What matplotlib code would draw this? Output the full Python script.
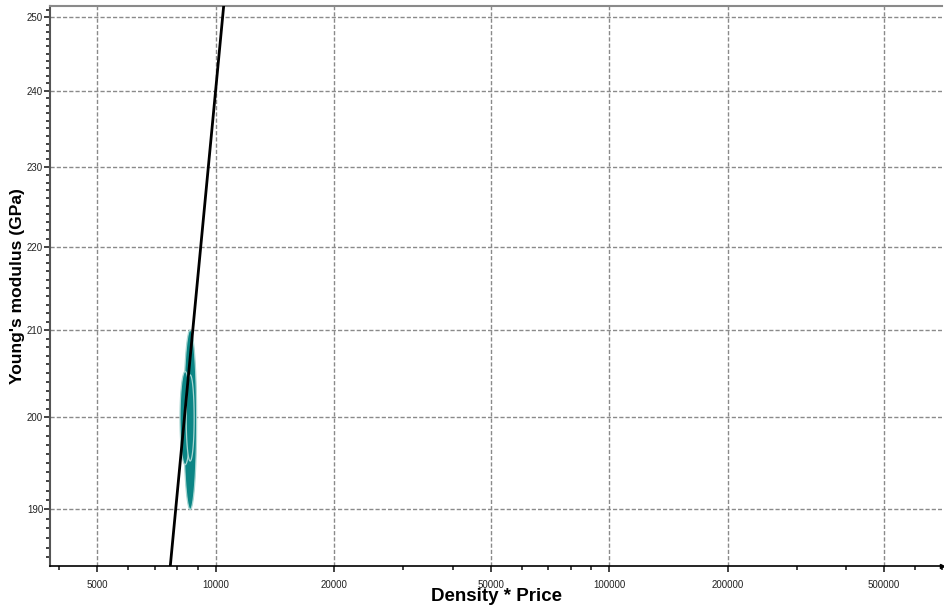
import matplotlib
matplotlib.use("Agg")
import matplotlib.pyplot as plt
import numpy as np
from matplotlib.ticker import FixedLocator, NullFormatter, FixedFormatter

plt.rcParams["font.family"] = ["Liberation Sans", "DejaVu Sans"]

# --- data ----------------------------------------------------------------- #
x_major = [5000, 10000, 20000, 50000, 100000, 200000, 500000]
y_major = [190, 200, 210, 220, 230, 240, 250]

# material bubbles: ranges of density*price and modulus
bub_x_lo = [8300, 8120, 8420]
bub_x_hi = [8950, 8620, 8820]
bub_y_lo = [190.0, 194.8, 195.2]
bub_y_hi = [210.0, 205.2, 204.8]

# guideline E / (rho*p) = const, through (10000, 240)
guide_x = [3000, 800000]
guide_slope = 0.024

xlim = (3795, 702000)
ylim = (184.1, 251.6)

fig = plt.figure(figsize=(9.44, 6.05), dpi=100)
ax = fig.add_axes([0.053, 0.0645, 0.945, 0.9255])
ax.set_xscale("log")
ax.set_yscale("log")
ax.set_xlim(*xlim)
ax.set_ylim(*ylim)

# bubbles drawn as ellipses in log space
t = np.linspace(0, 2 * np.pi, 200)
for xl, xh, yl, yh in zip(bub_x_lo, bub_x_hi, bub_y_lo, bub_y_hi):
    cx, rx = (np.log10(xl) + np.log10(xh)) / 2, (np.log10(xh) - np.log10(xl)) / 2
    cy, ry = (np.log10(yl) + np.log10(yh)) / 2, (np.log10(yh) - np.log10(yl)) / 2
    ex = 10 ** (cx + rx * np.cos(t))
    ey = 10 ** (cy + ry * np.sin(t))
    ax.fill(ex, ey, facecolor="#0b8585", edgecolor="#a8d6d2", lw=0.9, zorder=3)

gx = np.array(guide_x, dtype=float)
ax.plot(gx, guide_slope * gx, color="black", lw=2.0, zorder=4)

# ticks
ax.xaxis.set_major_locator(FixedLocator(x_major))
ax.xaxis.set_major_formatter(FixedFormatter([str(v) for v in x_major]))
x_minor = [m * 10 ** e for e in range(3, 6) for m in range(2, 10)]
ax.xaxis.set_minor_locator(FixedLocator(x_minor))
ax.xaxis.set_minor_formatter(NullFormatter())
ax.yaxis.set_major_locator(FixedLocator(y_major))
ax.yaxis.set_major_formatter(FixedFormatter([str(v) for v in y_major]))
ax.yaxis.set_minor_locator(FixedLocator(np.arange(180, 256, 1)))
ax.yaxis.set_minor_formatter(NullFormatter())

ax.tick_params(axis="both", which="major", labelsize=7, length=4, width=1.2,
               color="#222222", labelcolor="#222222", direction="out")
ax.tick_params(axis="both", which="minor", length=3, width=1.2, color="#222222",
               direction="out")
ax.tick_params(axis="x", pad=6)
ax.tick_params(axis="y", pad=1)

ax.grid(True, which="major", color="#8a8a8a", ls=(0, (3, 1.5)), lw=1.0)
ax.set_axisbelow(True)

ax.spines["right"].set_visible(False)
ax.spines["top"].set_color("#8a8a8a")
ax.spines["top"].set_linewidth(1.5)
ax.spines["left"].set_color("#555555")
ax.spines["left"].set_linewidth(1.5)
ax.spines["bottom"].set_color("black")
ax.spines["bottom"].set_linewidth(1.2)
ax.plot([1.0], [0.0], marker=">", ms=3, color="black", transform=ax.transAxes,
        clip_on=False)

ax.set_xlabel("Density * Price", fontsize=13.5, fontweight="bold", labelpad=-1)
ax.set_ylabel("Young's modulus (GPa)", fontsize=12.5, fontweight="bold", labelpad=1)

fig.savefig("out.png", dpi=100)
